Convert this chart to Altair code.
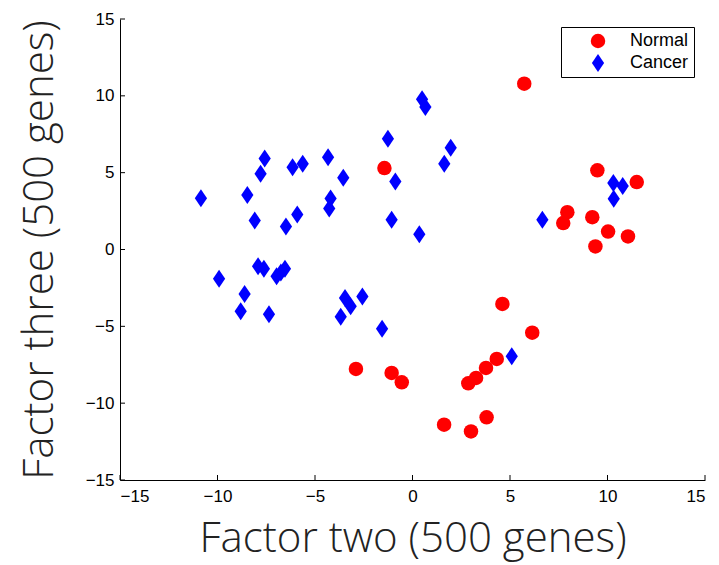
import altair as alt
import pandas as pd

# ---- data ----
normal_x = [-1.44, 5.73, 9.48, 11.5, 7.94, 7.73, 9.22, 10.03, 11.05, 9.38,
            -2.9, -1.07, -0.55, 4.61, 6.14, 4.32, 3.77, 3.26, 2.86, 1.62, 3.0, 3.8]
normal_y = [5.3, 10.79, 5.15, 4.39, 2.43, 1.72, 2.1, 1.17, 0.85, 0.2,
            -7.77, -8.03, -8.64, -3.54, -5.41, -7.12, -7.71, -8.36, -8.71, -11.4, -11.84, -10.92]

cancer_x = [-10.85, -8.47, -8.09, -7.79, -7.58, -6.49, -6.15, -5.91, -5.63, -4.33,
            -4.2, -4.27, -3.55, -1.26, -0.88, -1.07, 0.35, 0.49, 0.66, 1.96,
            1.63, 6.66, 10.3, 10.78, 10.32, 5.09,
            -9.92, -7.92, -7.62, -8.61, -8.81, -7.36, -6.97, -6.54, -6.75,
            -3.46, -3.17, -2.57, -3.68, -1.56]
cancer_y = [3.33, 3.54, 1.89, 4.93, 5.93, 1.5, 5.36, 2.28, 5.58, 6.01,
            3.32, 2.67, 4.67, 7.21, 4.43, 1.93, 1.0, 9.77, 9.27, 6.62,
            5.58, 1.93, 4.32, 4.13, 3.3, -6.95,
            -1.91, -1.09, -1.26, -2.89, -4.02, -4.21, -1.74, -1.26, -1.5,
            -3.15, -3.69, -3.06, -4.37, -5.15]

groups = ["Normal", "Cancer"]
tick_values = [-15, -10, -5, 0, 5, 10, 15]

df = pd.DataFrame({
    "x": normal_x + cancer_x,
    "y": normal_y + cancer_y,
    "group": ["Normal"] * len(normal_x) + ["Cancer"] * len(cancer_x),
})
ticks = pd.DataFrame({"t": tick_values})

W, H = 585, 461
DIAMOND = "M0,-1L0.68,0L0,1L-0.68,0Z"

xscale = alt.Scale(domain=[-15, 15], nice=False, zero=False)
yscale = alt.Scale(domain=[-15, 15], nice=False, zero=False)

xaxis = alt.Axis(values=tick_values, title="Factor two (500 genes)",
                 labelPadding=8, titlePadding=14)
yaxis = alt.Axis(values=tick_values, title="Factor three (500 genes)",
                 labelPadding=6, titlePadding=24)

points = alt.Chart(df).mark_point(filled=True, opacity=1, strokeWidth=0).encode(
    x=alt.X("x:Q", scale=xscale, axis=xaxis),
    y=alt.Y("y:Q", scale=yscale, axis=yaxis),
    color=alt.Color("group:N", scale=alt.Scale(domain=groups, range=["#ff0000", "#0000ff"]),
                    legend=alt.Legend(title=None, orient="none", legendX=441, legendY=8)),
    shape=alt.Shape("group:N", scale=alt.Scale(domain=groups, range=["circle", DIAMOND]),
                    legend=alt.Legend(title=None, orient="none", legendX=441, legendY=8)),
    size=alt.Size("group:N", scale=alt.Scale(domain=groups, range=[210, 324]), legend=None),
)

xticks = alt.Chart(ticks).mark_rule(color="black", strokeWidth=1).encode(
    x=alt.X("t:Q", scale=xscale, axis=xaxis),
    y=alt.value(H), y2=alt.value(H - 5),
)
yticks = alt.Chart(ticks).mark_rule(color="black", strokeWidth=1).encode(
    y=alt.Y("t:Q", scale=yscale, axis=yaxis),
    x=alt.value(0), x2=alt.value(5),
)

chart = alt.layer(points, xticks, yticks).properties(
    width=W, height=H,
    autosize=alt.AutoSizeParams(type="none"),
    padding={"left": 112, "top": 11, "right": 5, "bottom": 85},
).configure_view(stroke=None).configure_axis(
    ticks=False, grid=False, domainColor="black", domainWidth=1,
    labelFont="Liberation Sans", labelFontSize=17, labelColor="black",
    titleFont="Open Sans", titleFontSize=42, titleFontWeight=300,
    titleColor="#222222",
).configure_legend(
    strokeColor="black", fillColor="white", padding=5, cornerRadius=0,
    labelFont="Liberation Sans", labelFontSize=18, labelColor="black",
    symbolSize=110, symbolOffset=23, labelOffset=23, rowPadding=4,
    symbolStrokeWidth=0,
)

chart.save("out.html", embed_options={"renderer": "svg", "actions": False})
